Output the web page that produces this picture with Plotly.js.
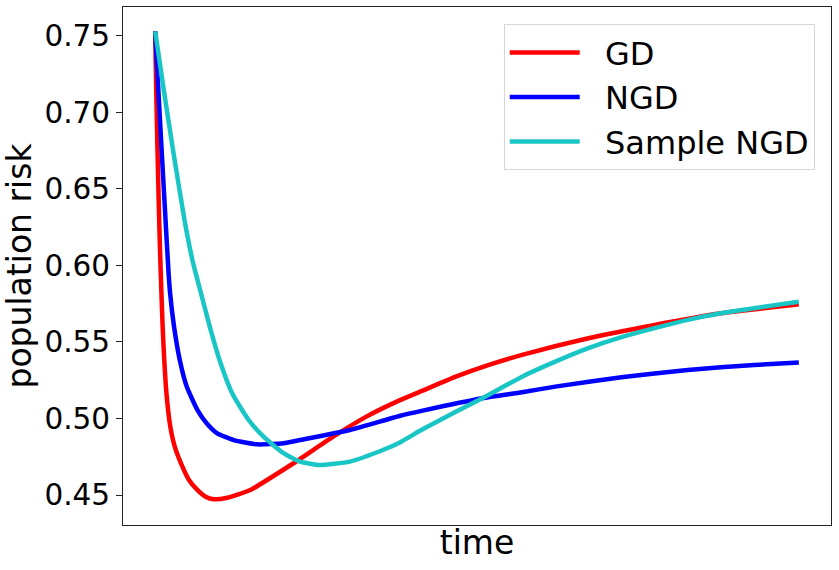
<!DOCTYPE html>
<html>
<head>
<meta charset="utf-8">
<script src="https://cdn.plot.ly/plotly-3.0.1.min.js"></script>
<style>
	html, body { margin: 0; padding: 0; background: #fff; }
	#plot { width: 839px; height: 570px; }
</style>
</head>
<body>
<div id="plot"></div>
<script>
// values (time is unitless, 0 = start, 1 = end)
const gdTime = [0, 0.0015, 0.0037, 0.0062, 0.008, 0.0097, 0.0116, 0.0141, 0.0175, 0.0235, 0.0304, 0.0423, 0.0525, 0.0655, 0.0783, 0.0911, 0.1118, 0.1478, 0.2147, 0.2765, 0.3281, 0.3795, 0.4155, 0.4671, 0.5185, 0.57, 0.673, 0.776, 0.8789, 1];
const gdRisk = [0.7529, 0.7169, 0.6733, 0.6297, 0.6036, 0.5818, 0.56, 0.5382, 0.5165, 0.4946, 0.4816, 0.4685, 0.4598, 0.4533, 0.4489, 0.4472, 0.4482, 0.4533, 0.4707, 0.4881, 0.5012, 0.5118, 0.5182, 0.5273, 0.535, 0.5415, 0.5524, 0.5611, 0.5687, 0.5746];

const ngdTime = [0, 0.0046, 0.0103, 0.0161, 0.0205, 0.0232, 0.0293, 0.0382, 0.049, 0.0655, 0.0799, 0.0964, 0.122, 0.1582, 0.1993, 0.2251, 0.3024, 0.3795, 0.4155, 0.5082, 0.57, 0.6216, 0.7244, 0.8275, 0.9305, 1];
const ngdRisk = [0.7529, 0.7169, 0.6733, 0.6297, 0.5971, 0.5818, 0.56, 0.5382, 0.5208, 0.5056, 0.4969, 0.4903, 0.4859, 0.4831, 0.4838, 0.4859, 0.4925, 0.5016, 0.5051, 0.5132, 0.5171, 0.5208, 0.5269, 0.5317, 0.535, 0.5365];

const sngdTime = [0, 0.0125, 0.0285, 0.0455, 0.0578, 0.0712, 0.0848, 0.1, 0.1196, 0.1452, 0.1684, 0.1993, 0.2251, 0.2559, 0.3023, 0.3537, 0.3795, 0.4155, 0.4671, 0.5082, 0.57, 0.6216, 0.673, 0.7244, 0.776, 0.8275, 0.8789, 0.9305, 1];
const sngdRisk = [0.7529, 0.7169, 0.6733, 0.6297, 0.6036, 0.5818, 0.56, 0.5382, 0.5165, 0.499, 0.4881, 0.4773, 0.4718, 0.4696, 0.4718, 0.4794, 0.4842, 0.4929, 0.5044, 0.5132, 0.5273, 0.5371, 0.5459, 0.5531, 0.559, 0.5644, 0.5687, 0.572, 0.5763];

const seriesNames = ["GD", "NGD", "Sample NGD"];
const seriesColors = ["#ff0000", "#0000ff", "#19c5c5"];
const yTickVals = [0.45, 0.5, 0.55, 0.6, 0.65, 0.7, 0.75];

const FONT = "DejaVu Sans, sans-serif";
// matplotlib leaves a wider gap between the legend line and its label
const LEGEND_PAD = "\u00a0\u00a0";

const lineAttrs = {
	type: "scatter",
	mode: "lines",
	hoverinfo: "skip",
};

const data = [
	[gdTime, gdRisk],
	[ngdTime, ngdRisk],
	[sngdTime, sngdRisk],
].map(([x, y], i) => ({
	x,
	y,
	name: LEGEND_PAD + seriesNames[i],
	line: { color: seriesColors[i], width: 4.5, shape: "spline", smoothing: 0.5 },
	...lineAttrs,
}));

const frame = {
	showline: true,
	mirror: true,
	linecolor: "#222",
	linewidth: 1,
	showgrid: false,
	zeroline: false,
};

const layout = {
	width: 839,
	height: 570,
	margin: { l: 123, r: 8, t: 7, b: 45 },
	paper_bgcolor: "#fff",
	plot_bgcolor: "#fff",
	font: { family: FONT, color: "#000" },
	xaxis: {
		...frame,
		range: [-0.05, 1.05],
		showticklabels: false,
		ticks: "",
		title: { text: "time", font: { size: 33 }, standoff: 5 },
	},
	yaxis: {
		...frame,
		range: [0.4304, 0.7688],
		tickvals: yTickVals,
		tickformat: ".2f",
		ticks: "outside",
		ticklen: 6,
		tickcolor: "#222",
		tickfont: { size: 29.5 },
		title: { text: "population risk", font: { size: 33 }, standoff: 4 },
	},
	legend: {
		x: 0.977,
		y: 0.967,
		xanchor: "right",
		yanchor: "top",
		bgcolor: "rgba(255,255,255,0.8)",
		bordercolor: "#d6d6d6",
		borderwidth: 1,
		font: { size: 32 },
		itemwidth: 70,
	},
	showlegend: true,
};

Plotly.newPlot("plot", data, layout, { displayModeBar: false, staticPlot: true });
</script>
</body>
</html>
